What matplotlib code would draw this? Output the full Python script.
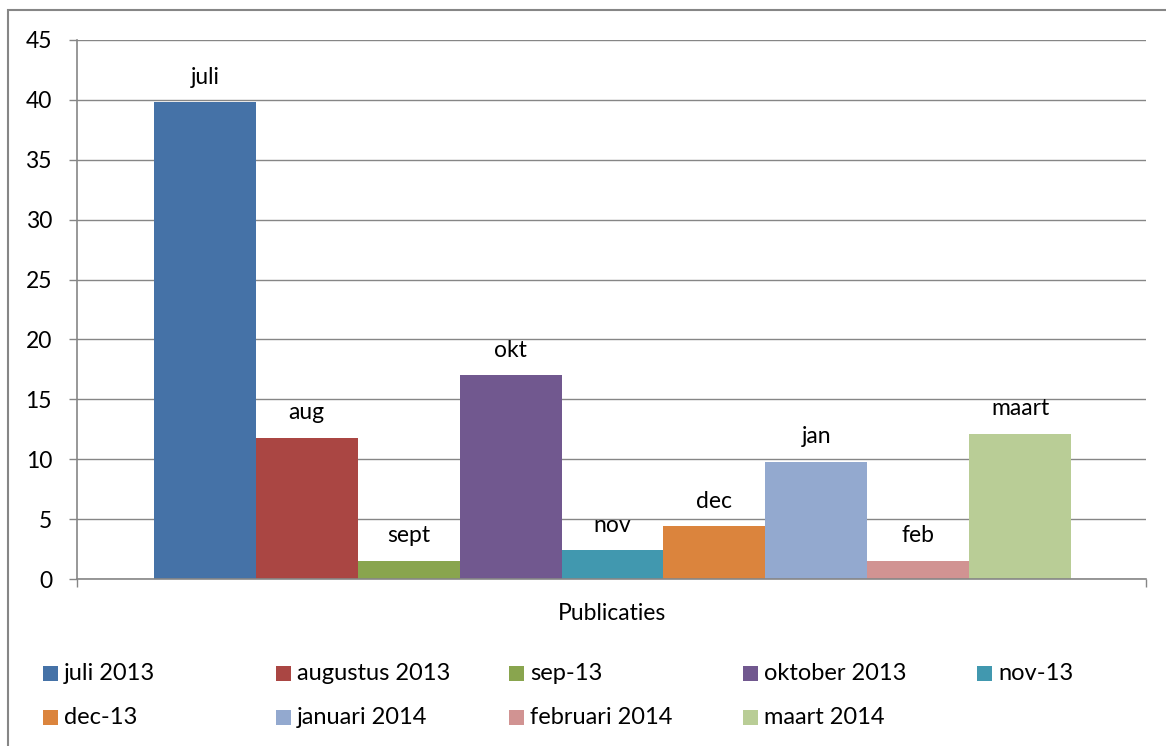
import numpy as np
import matplotlib.pyplot as plt
import matplotlib as mpl
from matplotlib.patches import Rectangle

# data
bar_labels = ['juli', 'aug', 'sept', 'okt', 'nov', 'dec', 'jan', 'feb', 'maart']
series_names = ['juli 2013', 'augustus 2013', 'sep-13', 'oktober 2013', 'nov-13',
                'dec-13', 'januari 2014', 'februari 2014', 'maart 2014']
values = [39.8, 11.8, 1.5, 17.0, 2.4, 4.4, 9.8, 1.5, 12.1]
colors = ['#4572A7', '#AA4643', '#89A54E', '#71588F', '#4198AF',
          '#DB843D', '#93A9CF', '#D19392', '#B9CD96']
category = 'Publicaties'

plt.rcParams['font.family'] = 'Lato'
plt.rcParams['font.size'] = 16
gray = '#868686'

W, H = 1166, 746
fig = plt.figure(figsize=(W / 100, H / 100), dpi=100)
ax = fig.add_axes([77 / W, 1 - 579 / H, (1146 - 77) / W, (579 - 40) / H])

x = np.arange(len(values))
ax.bar(x, values, width=1.0, color=colors, zorder=2)
for xi, v, lab in zip(x, values, bar_labels):
    ax.annotate(lab, (xi, v), xytext=(0, 13.5), textcoords='offset points',
                ha='center', va='baseline', fontsize=16.5)

ax.set_xlim(-1.255, 9.235)
ax.set_ylim(0, 45)
ax.set_yticks(np.arange(0, 46, 5))
ax.yaxis.grid(True, color=gray, linewidth=1.0, zorder=0)
ax.set_axisbelow(True)
ax.set_xticks([-1.255, 9.235])
ax.set_xticklabels(['', ''])
ax.tick_params(axis='x', length=6, width=1.0, color=gray, direction='out')
ax.tick_params(axis='y', length=6, width=1.0, color=gray, direction='out',
               pad=12, labelsize=16.5)
for s in ['top', 'right']:
    ax.spines[s].set_visible(False)
for s in ['left', 'bottom']:
    ax.spines[s].set_color(gray)
    ax.spines[s].set_linewidth(1.2)
    ax.spines[s].set_zorder(3)

fig.text(611.5 / W, 1 - 614 / H, category, ha='center', va='center', fontsize=16.5)

# legend, Excel-style equal columns
col_x = [43, 276, 509, 743, 977]
row_y = [673.5, 717.5]
for i, (name, c) in enumerate(zip(series_names, colors)):
    r, k = divmod(i, 5)
    fig.patches.append(Rectangle(((col_x[k]) / W, 1 - (row_y[r] + 7.5) / H),
                                 15 / W, 15 / H, transform=fig.transFigure,
                                 facecolor=c, edgecolor='none'))
    fig.text((col_x[k] + 21) / W, 1 - row_y[r] / H, name,
             ha='left', va='center', fontsize=17)

# outer chart frame
fig.patches.append(Rectangle((8 / W, -0.1), 1.2, 1.1 - 10 / H,
                             transform=fig.transFigure, fill=False,
                             edgecolor=gray, linewidth=1.5))

fig.savefig('out.png', dpi=100)
